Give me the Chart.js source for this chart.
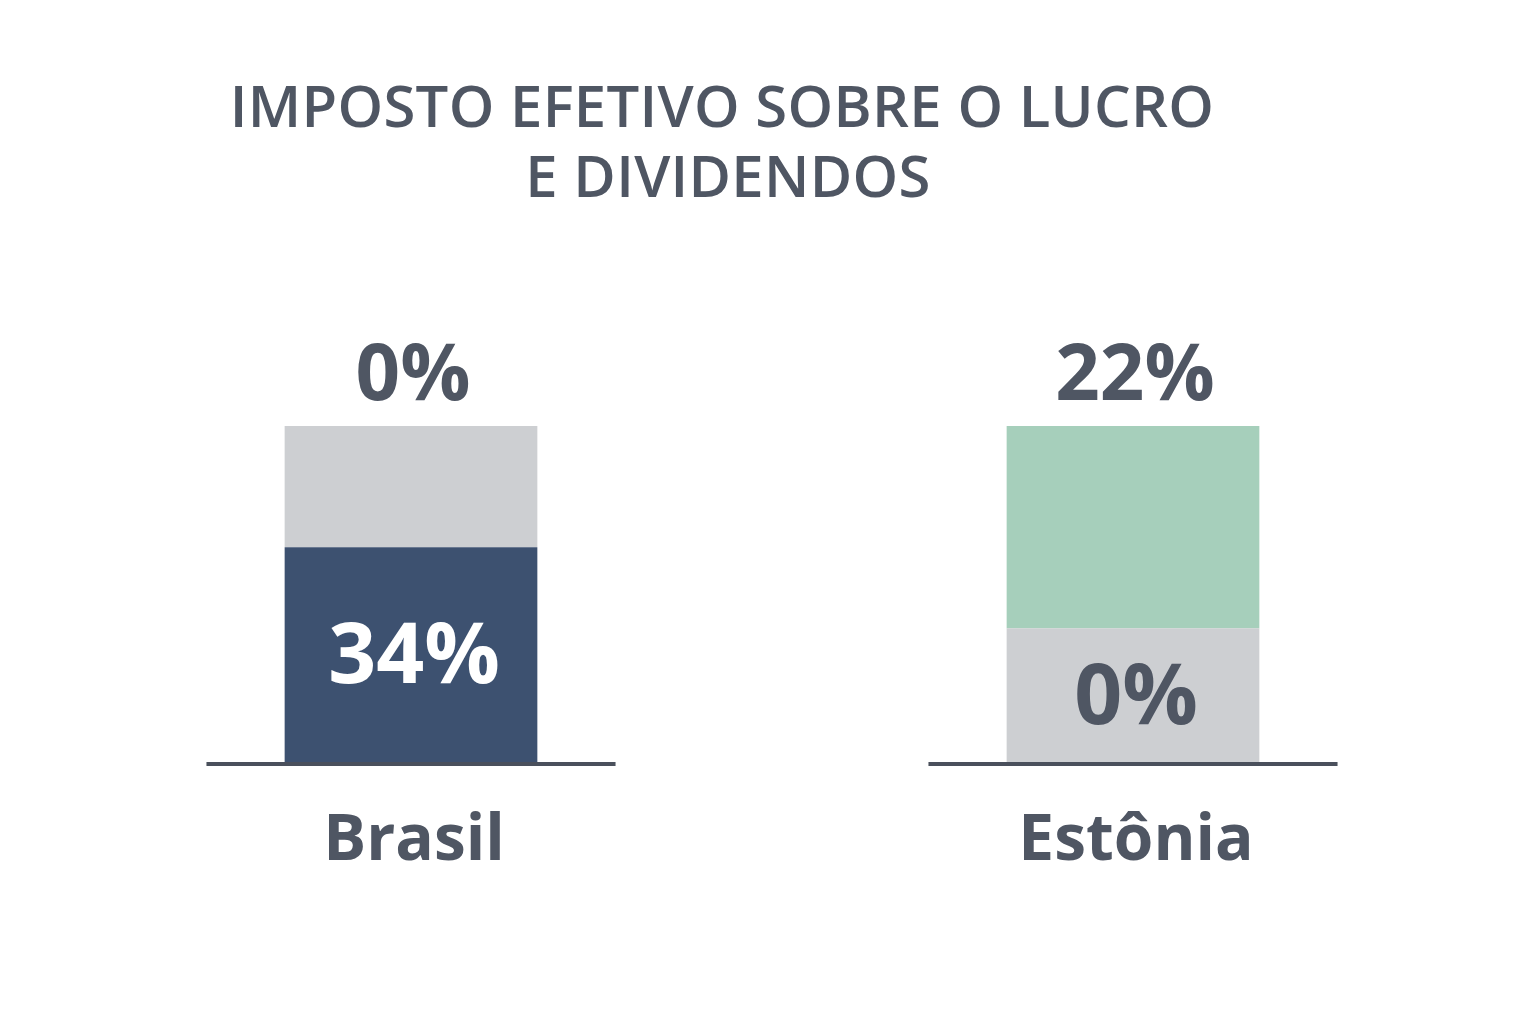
<!DOCTYPE html>
<html>
<head>
<meta charset="utf-8">
<script src="https://cdn.jsdelivr.net/npm/chart.js@4.4.1/dist/chart.umd.min.js"></script>
<style>
  html, body { margin: 0; padding: 0; background: #ffffff; }
  #wrap { width: 1536px; height: 1024px; position: relative; }
</style>
</head>
<body>
<div id="wrap"><canvas id="c" width="1536" height="1024"></canvas></div>
<script>
// ---- data ----
const titleLines = ['IMPOSTO EFETIVO SOBRE O LUCRO', 'E DIVIDENDOS'];
const categories = ['Brasil', 'Estônia'];
// visual segment sizes (share of each bar's height)
const bottomSegment = [64, 40];
const topSegment = [36, 60];
// rates printed on the segments
const bottomLabels = ['34%', '0%'];
const topLabels = ['0%', '22%'];
const bottomColors = ['#3d5170', '#cdcfd2'];
const topColors = ['#cdcfd2', '#a6cfbb'];
const bottomLabelColors = ['#ffffff', '#4f5663'];

const TEXT = '#4f5663';
const FONT = '"Open Sans", "Noto Sans", sans-serif';

const decor = {
  id: 'decor',
  afterDatasetsDraw(chart) {
    const ctx = chart.ctx;
    const x = chart.scales.x, y = chart.scales.y;
    const catW = x.getPixelForValue(1) - x.getPixelForValue(0);
    const base = y.getPixelForValue(0);
    ctx.save();
    // baselines per category
    ctx.strokeStyle = '#4a505c';
    ctx.lineWidth = 4;
    categories.forEach((c, i) => {
      const cx = x.getPixelForValue(i);
      ctx.beginPath();
      ctx.moveTo(cx - catW * 0.2833, base + 1);
      ctx.lineTo(cx + catW * 0.2833, base + 1);
      ctx.stroke();
    });
    ctx.textAlign = 'center';
    ctx.textBaseline = 'alphabetic';
    categories.forEach((c, i) => {
      const cx = x.getPixelForValue(i);
      const topPx = y.getPixelForValue(bottomSegment[i] + topSegment[i]);
      const splitPx = y.getPixelForValue(bottomSegment[i]);
      // label above the stack
      ctx.fillStyle = TEXT;
      ctx.font = '700 78px ' + FONT;
      ctx.fillText(topLabels[i], cx + 2, topPx - 26);
      // label inside bottom segment
      ctx.fillStyle = bottomLabelColors[i];
      ctx.font = '700 84px ' + FONT;
      ctx.fillText(bottomLabels[i], cx + 3, (splitPx + base) / 2 + 28);
      // category name
      ctx.fillStyle = TEXT;
      ctx.font = '700 64px ' + FONT;
      ctx.fillText(c, cx + 3, base + 97);
    });
    // title
    ctx.fillStyle = TEXT;
    ctx.font = '600 58px ' + FONT;
    if ('letterSpacing' in ctx) ctx.letterSpacing = '0.3px';
    ctx.fillText(titleLines[0], 722, 127);
    ctx.fillText(titleLines[1], 728, 197);
    ctx.restore();
  }
};

function draw() {
  new Chart(document.getElementById('c'), {
    type: 'bar',
    data: {
      labels: categories,
      datasets: [
        { label: 'base', data: bottomSegment, backgroundColor: bottomColors, borderWidth: 0,
          barPercentage: 0.35, categoryPercentage: 1 },
        { label: 'topo', data: topSegment, backgroundColor: topColors, borderWidth: 0,
          barPercentage: 0.35, categoryPercentage: 1 }
      ]
    },
    options: {
      responsive: false,
      devicePixelRatio: 1,
      animation: false,
      layout: { padding: { left: 50, right: 42, top: 426, bottom: 261 } },
      plugins: { legend: { display: false }, tooltip: { enabled: false }, title: { display: false } },
      scales: {
        x: { stacked: true, display: false },
        y: { stacked: true, display: false, min: 0, max: 100 }
      }
    },
    plugins: [decor]
  });
}
if (document.fonts && document.fonts.load) {
  Promise.all([
    document.fonts.load('700 64px "Open Sans"'),
    document.fonts.load('600 58px "Open Sans"')
  ]).then(draw, draw);
} else { draw(); }
</script>
</body>
</html>
